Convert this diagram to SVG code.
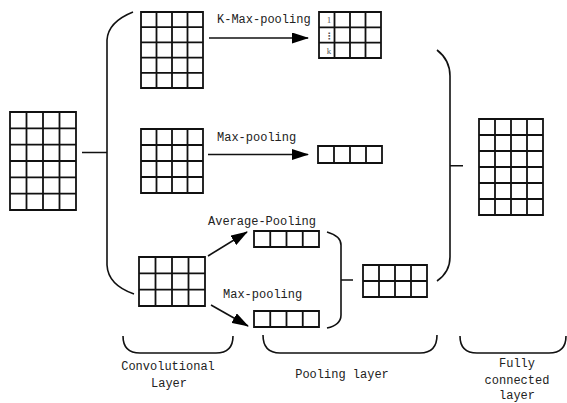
<svg xmlns="http://www.w3.org/2000/svg" width="567" height="403" viewBox="0 0 567 403">
<style>
.g{fill:none;stroke:#111;stroke-width:1.8}
.c{fill:none;stroke:#111;stroke-width:1.6}
.t{font-family:"Liberation Mono","DejaVu Sans Mono",monospace;font-size:12px;fill:#222}
.s{font-family:"Liberation Serif",serif;font-size:9px;fill:#555;text-anchor:middle}
</style>
<defs>
<marker id="ah" viewBox="0 0 17 11" markerWidth="17" markerHeight="11" refX="16" refY="5.5" orient="auto" markerUnits="userSpaceOnUse">
<path d="M0,0 L17,5.5 L0,11 Z" fill="#000"/>
</marker>
</defs>
<rect width="567" height="403" fill="#fff"/>
<g id="input">
<path class="g" d="M10,112h66v98h-66z M26.5,112v98 M43,112v98 M59.5,112v98 M10,128.3h66 M10,144.7h66 M10,161h66 M10,177.3h66 M10,193.7h66"/>
</g>
<g id="conv-top">
<path class="g" d="M141,12h62v76h-62z M156.5,12v76 M172,12v76 M187.5,12v76 M141,27.2h62 M141,42.4h62 M141,57.6h62 M141,72.8h62"/>
</g>
<g id="conv-mid">
<path class="g" d="M141,129h62v64h-62z M156.5,129v64 M172,129v64 M187.5,129v64 M141,145h62 M141,161h62 M141,177h62"/>
</g>
<g id="conv-bottom">
<path class="g" d="M139,257h66v49h-66z M155.5,257v49 M172,257v49 M188.5,257v49 M139,273.3h66 M139,289.7h66"/>
</g>
<g id="kmax-out">
<path class="g" d="M319,12h62v46h-62z M334.5,12v46 M350,12v46 M365.5,12v46 M319,27.3h62 M319,42.7h62"/>
<text class="s" x="329" y="23">1</text>
<text class="s" x="329" y="39" style="font-family:'DejaVu Sans',sans-serif;font-weight:bold">⋮</text>
<text class="s" x="329" y="54">k</text>
</g>
<g id="max-out">
<path class="g" d="M318,146h64v17h-64z M334,146v17 M350,146v17 M366,146v17"/>
</g>
<g id="avg-out">
<path class="g" d="M254,231h65v16h-65z M270.25,231v16 M286.5,231v16 M302.75,231v16"/>
</g>
<g id="max-out2">
<path class="g" d="M254,311h65v16h-65z M270.25,311v16 M286.5,311v16 M302.75,311v16"/>
</g>
<g id="combined">
<path class="g" d="M363,265h64v32h-64z M379,265v32 M395,265v32 M411,265v32 M363,281h64"/>
</g>
<g id="output">
<path class="g" d="M479,119h64v96h-64z M495,119v96 M511,119v96 M527,119v96 M479,135h64 M479,151h64 M479,167h64 M479,183h64 M479,199h64"/>
</g>
<g id="connectors">
<path class="c" d="M133,12 Q108,22 107,40 L107,265 Q108,285 134,294 M82,152.5 H107"/>
<path class="c" d="M437,50 Q450,60 450,76 L450,257 Q450,272 437,281 M450,165.7 H463"/>
<path class="c" d="M327,232 Q341,236 341,245 L341,315 Q341,325 327,328 M341,280 H353"/>
<path class="c" d="M123,336 Q123,353 140,353 L216,353 Q233,353 233,336"/>
<path class="c" d="M263,335 Q263,353 280,353 L420,353 Q437,353 437,335"/>
<path class="c" d="M460,336 Q460,353 477,353 L549,353 Q566,353 566,336"/>
<path class="c" d="M209,38 L308,38" marker-end="url(#ah)"/>
<path class="c" d="M208,154.5 L308,154.5" marker-end="url(#ah)"/>
<path class="c" d="M208,256 L247,232" marker-end="url(#ah)"/>
<path class="c" d="M211,305 L248,326" marker-end="url(#ah)"/>
</g>
<g id="labels">
<text class="t" x="217" y="23">K-Max-pooling</text>
<text class="t" x="217" y="141">Max-pooling</text>
<text class="t" x="208" y="225">Average-Pooling</text>
<text class="t" x="223" y="298">Max-pooling</text>
<text class="t" x="168" y="370" text-anchor="middle">Convolutional</text>
<text class="t" x="169" y="387" text-anchor="middle">Layer</text>
<text class="t" x="342" y="378" text-anchor="middle">Pooling layer</text>
<text class="t" x="517" y="367" text-anchor="middle">Fully</text>
<text class="t" x="517" y="384" text-anchor="middle">connected</text>
<text class="t" x="517" y="399" text-anchor="middle">layer</text>
</g>
</svg>
